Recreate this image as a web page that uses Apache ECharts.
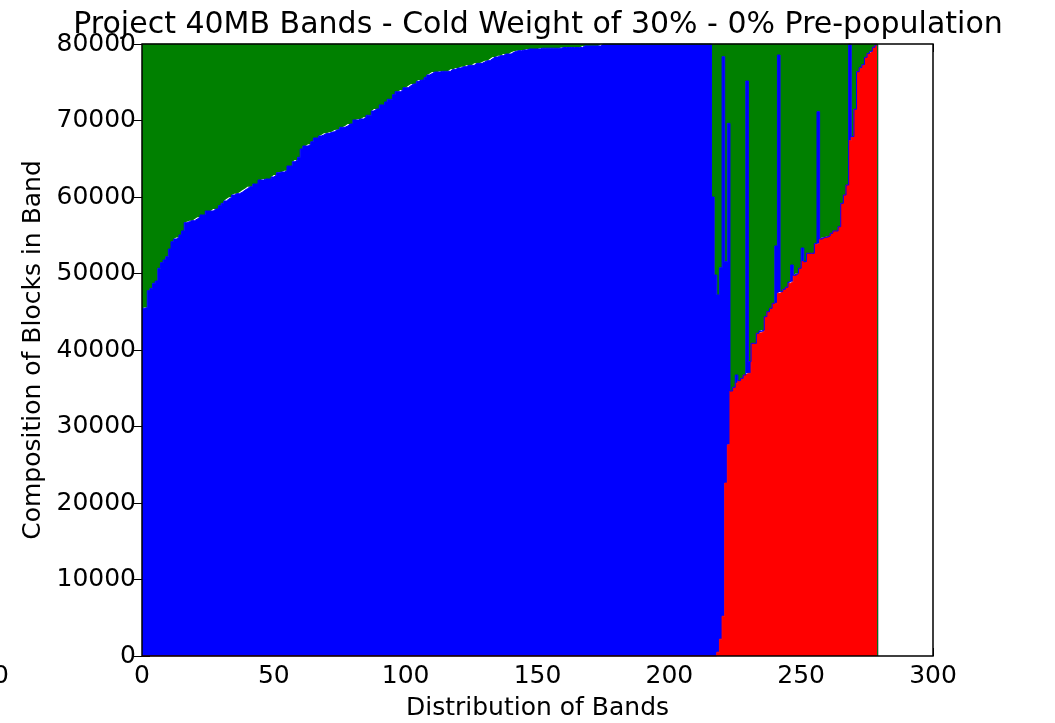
<!DOCTYPE html>
<html>
<head>
<meta charset="utf-8">
<title>Project 40MB Bands</title>
<script src="https://cdn.jsdelivr.net/npm/echarts@6/dist/echarts.min.js"></script>
<style>
  html, body { margin: 0; padding: 0; background: #fff; }
  #container { width: 1055px; height: 723px; }
</style>
</head>
<body>
<div id="container"></div>
<script>
// band composition, one value per band (bands 0..278)
var red = [
  0,0,0,0,0,0,0,0,0,0, 0,0,0,0,0,0,0,0,0,0,
  0,0,0,0,0,0,0,0,0,0, 0,0,0,0,0,0,0,0,0,0,
  0,0,0,0,0,0,0,0,0,0, 0,0,0,0,0,0,0,0,0,0,
  0,0,0,0,0,0,0,0,0,0, 0,0,0,0,0,0,0,0,0,0,
  0,0,0,0,0,0,0,0,0,0, 0,0,0,0,0,0,0,0,0,0,
  0,0,0,0,0,0,0,0,0,0, 0,0,0,0,0,0,0,0,0,0,
  0,0,0,0,0,0,0,0,0,0, 0,0,0,0,0,0,0,0,0,0,
  0,0,0,0,0,0,0,0,0,0, 0,0,0,0,0,0,0,0,0,0,
  0,0,0,0,0,0,0,0,0,0, 0,0,0,0,0,0,0,0,0,0,
  0,0,0,0,0,0,0,0,0,0, 0,0,0,0,0,0,0,0,0,0,
  0,0,0,0,0,0,0,0,0,0, 0,0,0,0,0,0,
  0,0,500,2200,5200,22600,27600,34640,35120,35650,
  36000,36300,36730,36950,36950,40870,40870,42180,42270,42400,
  44360,45010,45450,46100,46100,47410,47630,47930,48200,48720,
  48930,49760,50020,50680,51550,51460,52640,52640,52640,53820,
  53900,54510,54730,54750,54900,55250,55560,55560,56120,59170,
  60260,61570,67360,67800,71460,76380,76820,77210,78260,78780,
  78960,79570,79870
];

var blue = [
  45450,45540,47760,48060,48720,49020,50680,51420,51770,52200,
  53200,54160,54510,54690,55030,55560,56650,56780,56910,56910,
  57130,57340,57650,57650,58170,58170,58170,58430,58430,58870,
  59170,59480,59740,59960,60260,60440,60440,60610,60870,61090,
  61350,61350,61700,61700,62220,62220,62350,62350,62350,62620,
  62880,63180,63270,63270,63440,64050,64050,64620,64840,65190,
  66280,66670,66670,66890,67230,67710,67710,67980,68110,68320,
  68320,68450,68540,68760,68800,69110,69110,69280,69540,69540,
  70070,70070,70200,70200,70410,70680,70680,71240,71500,71500,
  72030,72030,72420,72770,72770,73380,73770,73770,73990,74290,
  74290,74550,74770,74770,75120,75290,75290,75640,75950,76120,
  76340,76340,76340,76430,76430,76430,76430,76690,76690,76860,
  76860,77040,77040,77210,77210,77210,77470,77470,77470,77650,
  77820,77820,78080,78300,78300,78480,78480,78690,78690,78690,
  78910,79040,79130,79130,79220,79220,79350,79350,79350,79350,
  79350,79450,79450,79450,79450,79450,79450,79450,79450,79550,
  79550,79550,79550,79550,79550,79550,79550,79750,79750,79750,
  79750,79750,79750,79750,80000,80000,80000,80000,80000,80000,
  80000,80000,80000,80000,80000,80000,80000,80000,80000,80000,
  80000,80000,80000,80000,80000,80000,80000,80000,80000,80000,
  80000,80000,80000,80000,80000,80000,80000,80000,80000,80000,
  80000,80000,80000,80000,80000,80000,
  60000,49800,46700,48560,73140,28950,42030,0,0,1080,
  0,0,0,38210,1530,0,0,0,220,200,
  0,0,0,0,7500,31150,0,0,0,170,
  2180,0,0,0,1780,100,0,0,0,90,
  17250,0,0,0,0,0,0,0,0,0,
  0,0,12640,100,0,0,90,90,0,0,
  90,0,0
];

var green = [
  34550,34460,32240,31940,31280,30980,29320,28580,28230,27800,
  26800,25840,25490,25310,24970,24440,23350,23220,23090,23090,
  22870,22660,22350,22350,21830,21830,21830,21570,21570,21130,
  20830,20520,20260,20040,19740,19560,19560,19390,19130,18910,
  18650,18650,18300,18300,17780,17780,17650,17650,17650,17380,
  17120,16820,16730,16730,16560,15950,15950,15380,15160,14810,
  13720,13330,13330,13110,12770,12290,12290,12020,11890,11680,
  11680,11550,11460,11240,11200,10890,10890,10720,10460,10460,
  9930,9930,9800,9800,9590,9320,9320,8760,8500,8500,
  7970,7970,7580,7230,7230,6620,6230,6230,6010,5710,
  5710,5450,5230,5230,4880,4710,4710,4360,4050,3880,
  3660,3660,3660,3570,3570,3570,3570,3310,3310,3140,
  3140,2960,2960,2790,2790,2790,2530,2530,2530,2350,
  2180,2180,1920,1700,1700,1520,1520,1310,1310,1310,
  1090,960,870,870,780,780,650,650,650,650,
  650,550,550,550,550,550,550,550,550,450,
  450,450,450,450,450,450,450,250,250,250,
  250,250,250,250,0,0,0,0,0,0,
  0,0,0,0,0,0,0,0,0,0,
  0,0,0,0,0,0,0,0,0,0,
  0,0,0,0,0,0,0,0,0,0,
  0,0,0,0,0,0,
  20000,30200,32800,29240,1660,28450,10370,45360,44880,43270,
  44000,43700,43270,4840,41520,39130,39130,37820,37510,37400,
  35640,34990,34550,33900,26400,1440,32370,32070,31800,31110,
  28890,30240,29980,29320,26670,28440,27360,27360,27360,26090,
  8850,25490,25270,25250,25100,24750,24440,24440,23880,20830,
  19740,18430,0,12100,8540,3620,3090,2700,1740,1220,
  950,430,130
];

var xTicks = [0, 50, 100, 150, 200, 250, 300];
var yTicks = [0, 10000, 20000, 30000, 40000, 50000, 60000, 70000, 80000];

var FONT = 'DejaVu Sans';

// band edges 0..300 on the x axis; band i fills the step from edge i to edge i+1
var bandEdges = [];
for (var b = 0; b <= xTicks[xTicks.length - 1]; b++) {
    bandEdges.push(String(b));
}

var dom = document.getElementById('container');
var myChart = echarts.init(dom, null, { renderer: 'canvas' });

var tickStyle = { show: true, inside: true, length: 8, lineStyle: { color: '#000', width: 1 } };

function valueAxis(ticks, extra) {
    return Object.assign({
        type: 'value',
        min: ticks[0],
        max: ticks[ticks.length - 1],
        interval: ticks[1] - ticks[0],
        axisLine: { show: false },
        axisTick: tickStyle,
        splitLine: { show: false },
        axisLabel: { show: false }
    }, extra);
}

// stacked step areas: seamless fills, one flat step per band
function bandSeries(name, values, color) {
    return {
        name: name,
        type: 'line',
        stack: 'band',
        step: 'end',
        xAxisIndex: 0,
        yAxisIndex: 0,
        symbol: 'none',
        // the empty slot after the last band closes the final step
        data: values.concat([0]),
        // a 1px edge in the fill colour hides the hairline where two areas meet
        lineStyle: { width: 1, color: color },
        areaStyle: { color: color, opacity: 1 },
        emphasis: { disabled: true },
        animation: false
    };
}

var labelStyle = { show: true, fontFamily: FONT, fontSize: 25, color: '#000' };

var option = {
    backgroundColor: '#fff',
    animation: false,
    title: {
        text: 'Project 40MB Bands - Cold Weight of 30% - 0% Pre-population',
        left: 538,
        top: 10,
        textAlign: 'center',
        padding: 0,
        textStyle: { fontFamily: FONT, fontSize: 30, fontWeight: 'normal', color: '#000' }
    },
    grid: {
        left: 142, top: 44, width: 791, height: 612,
        containLabel: false, outerBoundsMode: 'none',
        show: true, borderColor: '#000', borderWidth: 1.5, backgroundColor: 'transparent', z: 5
    },
    xAxis: [
        {
            type: 'category',
            data: bandEdges,
            boundaryGap: false,
            show: false
        },
        valueAxis(xTicks, {
            position: 'bottom',
            name: 'Distribution of Bands',
            nameLocation: 'middle',
            nameGap: 40,
            nameTextStyle: { fontFamily: FONT, fontSize: 25, color: '#000' },
            axisLabel: Object.assign({ margin: 8 }, labelStyle)
        }),
        valueAxis(xTicks, { position: 'top' })
    ],
    yAxis: [
        valueAxis(yTicks, {
            position: 'left',
            name: 'Composition of Blocks in Band',
            nameLocation: 'middle',
            nameGap: 93,
            nameRotate: 90,
            nameTextStyle: { fontFamily: FONT, fontSize: 25, color: '#000' },
            axisLabel: Object.assign({ margin: 6, formatter: function (v) { return String(v); } }, labelStyle)
        }),
        valueAxis(yTicks, { position: 'right' })
    ],
    graphic: [{
        // stray clipped tick label at the far left edge
        type: 'text',
        left: -7,
        top: 664,
        style: { text: '0', font: '25px "DejaVu Sans"', fill: '#000' }
    }],
    series: [
        bandSeries('red', red, '#ff0000'),
        bandSeries('blue', blue, '#0000ff'),
        bandSeries('green', green, '#008000'),
        // empty series so the tick-only frame axes get drawn
        { type: 'line', xAxisIndex: 1, yAxisIndex: 1, data: [], silent: true },
        { type: 'line', xAxisIndex: 2, yAxisIndex: 0, data: [], silent: true }
    ]
};

if (option && typeof option === 'object') {
    myChart.setOption(option, true);
}
</script>
</body>
</html>
